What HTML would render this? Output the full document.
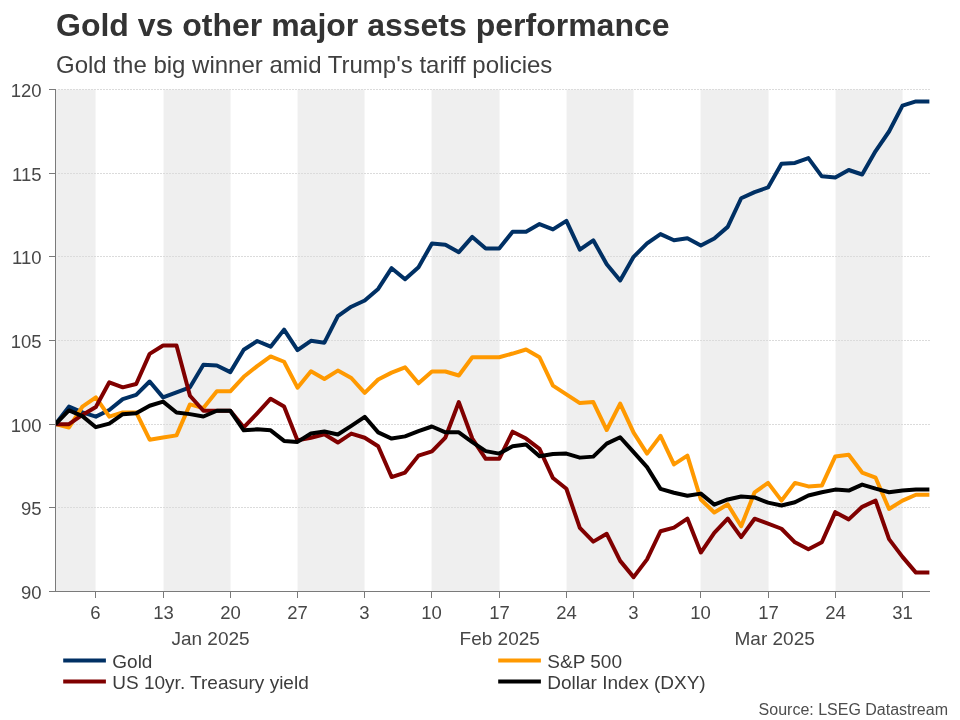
<!DOCTYPE html>
<html lang="en"><head><meta charset="utf-8"><title>Gold vs other major assets performance</title>
<style>
html,body{margin:0;padding:0;background:#fff}
body{width:960px;height:720px;overflow:hidden;font-family:"Liberation Sans",sans-serif}
svg{display:block}
text{font-family:"Liberation Sans",sans-serif}
</style></head><body>
<svg width="960" height="720" viewBox="0 0 960 720">
<rect width="960" height="720" fill="#ffffff"/>
<defs><clipPath id="pc"><rect x="55" y="80" width="875.5" height="512"/></clipPath></defs>
<rect x="55.50" y="89.5" width="40.05" height="501.50" fill="#efefef"/>
<rect x="163.55" y="89.5" width="67.00" height="501.50" fill="#efefef"/>
<rect x="297.55" y="89.5" width="67.00" height="501.50" fill="#efefef"/>
<rect x="431.55" y="89.5" width="68.00" height="501.50" fill="#efefef"/>
<rect x="566.55" y="89.5" width="67.00" height="501.50" fill="#efefef"/>
<rect x="700.55" y="89.5" width="68.00" height="501.50" fill="#efefef"/>
<rect x="835.55" y="89.5" width="67.00" height="501.50" fill="#efefef"/>
<line x1="58.0" y1="89.50" x2="930.5" y2="89.50" stroke="#dbdbdb" stroke-width="1" stroke-dasharray="2 1"/>
<line x1="58.0" y1="173.50" x2="930.5" y2="173.50" stroke="#dbdbdb" stroke-width="1" stroke-dasharray="2 1"/>
<line x1="58.0" y1="256.50" x2="930.5" y2="256.50" stroke="#dbdbdb" stroke-width="1" stroke-dasharray="2 1"/>
<line x1="58.0" y1="340.50" x2="930.5" y2="340.50" stroke="#dbdbdb" stroke-width="1" stroke-dasharray="2 1"/>
<line x1="58.0" y1="424.50" x2="930.5" y2="424.50" stroke="#dbdbdb" stroke-width="1" stroke-dasharray="2 1"/>
<line x1="58.0" y1="507.50" x2="930.5" y2="507.50" stroke="#dbdbdb" stroke-width="1" stroke-dasharray="2 1"/>
<polyline points="55.52,424.17 68.96,406.60 82.41,412.45 95.85,416.64 109.30,409.94 122.74,399.07 136.18,394.88 149.63,381.50 163.07,397.39 176.52,392.37 189.96,387.35 203.40,364.76 216.85,365.43 230.29,372.13 243.74,349.70 257.18,341.00 270.62,346.69 284.07,329.62 297.51,350.20 310.96,340.83 324.40,342.67 337.84,316.07 351.29,306.70 364.73,300.51 378.18,288.96 391.62,268.21 405.06,279.26 418.51,267.21 431.95,243.45 445.40,244.79 458.84,252.15 472.28,236.92 485.73,248.47 499.17,248.47 512.62,231.73 526.06,231.73 539.50,224.04 552.95,229.39 566.39,220.86 579.84,249.64 593.28,240.27 606.72,264.20 620.17,280.43 633.61,256.83 647.06,243.45 660.50,234.08 673.94,240.27 687.39,238.26 700.83,245.45 714.28,238.43 727.72,226.88 741.16,198.27 754.61,192.08 768.05,187.39 781.50,163.80 794.94,162.96 808.38,158.11 821.83,176.35 835.27,177.52 848.72,169.99 862.16,174.51 875.60,151.08 889.05,131.50 902.49,105.56 915.94,101.38 929.38,101.38" fill="none" stroke="#003064" stroke-width="4" stroke-linejoin="round" stroke-linecap="butt" clip-path="url(#pc)"/>
<polyline points="55.52,424.17 68.96,427.51 82.41,406.60 95.85,397.39 109.30,416.64 122.74,412.45 136.18,412.45 149.63,439.73 163.07,437.55 176.52,435.38 189.96,404.42 203.40,408.10 216.85,391.37 230.29,391.37 243.74,376.81 257.18,366.10 270.62,356.40 284.07,361.75 297.51,387.69 310.96,371.29 324.40,378.99 337.84,370.62 351.29,377.98 364.73,392.87 378.18,379.49 391.62,372.63 405.06,367.27 418.51,383.34 431.95,371.46 445.40,371.46 458.84,375.47 472.28,357.23 485.73,357.23 499.17,357.23 512.62,353.55 526.06,349.54 539.50,357.23 552.95,385.68 566.39,394.38 579.84,403.08 593.28,402.08 606.72,430.02 620.17,403.58 633.61,432.70 647.06,453.62 660.50,435.88 673.94,464.33 687.39,455.62 700.83,499.47 714.28,512.52 727.72,504.32 741.16,526.24 754.61,492.27 768.05,482.90 781.50,500.64 794.94,482.90 808.38,486.41 821.83,485.58 835.27,456.46 848.72,454.79 862.16,472.53 875.60,477.71 889.05,509.00 902.49,500.64 915.94,494.78 929.38,494.78" fill="none" stroke="#ff9900" stroke-width="4" stroke-linejoin="round" stroke-linecap="butt" clip-path="url(#pc)"/>
<polyline points="55.52,424.17 68.96,424.17 82.41,414.96 95.85,406.93 109.30,382.33 122.74,387.35 136.18,384.01 149.63,353.89 163.07,345.52 176.52,345.52 189.96,395.72 203.40,410.78 216.85,410.78 230.29,410.78 243.74,427.35 257.18,413.29 270.62,398.73 284.07,406.43 297.51,440.40 310.96,437.72 324.40,434.21 337.84,442.57 351.29,433.54 364.73,437.72 378.18,446.25 391.62,477.04 405.06,472.53 418.51,455.62 431.95,451.44 445.40,437.55 458.84,402.08 472.28,438.56 485.73,458.80 499.17,458.80 512.62,431.70 526.06,438.56 539.50,448.93 552.95,478.05 566.39,488.76 579.84,527.91 593.28,541.63 606.72,533.77 620.17,560.88 633.61,577.11 647.06,559.37 660.50,531.26 673.94,527.58 687.39,518.54 700.83,552.51 714.28,532.77 727.72,518.54 741.16,537.12 754.61,518.71 768.05,523.56 781.50,528.75 794.94,542.30 808.38,549.16 821.83,542.30 835.27,512.18 848.72,519.38 862.16,506.83 875.60,500.64 889.05,539.12 902.49,556.86 915.94,572.59 929.38,572.59" fill="none" stroke="#800000" stroke-width="4" stroke-linejoin="round" stroke-linecap="butt" clip-path="url(#pc)"/>
<polyline points="55.52,424.17 68.96,410.44 82.41,416.13 95.85,427.18 109.30,423.66 122.74,414.13 136.18,413.29 149.63,405.76 163.07,401.58 176.52,412.45 189.96,414.13 203.40,416.47 216.85,410.78 230.29,410.78 243.74,430.36 257.18,429.35 270.62,430.36 284.07,440.90 297.51,441.90 310.96,433.54 324.40,431.53 337.84,434.54 351.29,425.84 364.73,416.80 378.18,432.37 391.62,438.56 405.06,436.38 418.51,431.19 431.95,426.51 445.40,432.37 458.84,432.37 472.28,442.07 485.73,451.11 499.17,453.62 512.62,446.25 526.06,444.41 539.50,456.29 552.95,453.95 566.39,453.62 579.84,457.63 593.28,456.63 606.72,443.58 620.17,437.22 633.61,452.11 647.06,467.17 660.50,488.92 673.94,492.77 687.39,495.78 700.83,493.61 714.28,504.65 727.72,499.47 741.16,496.45 754.61,497.46 768.05,502.65 781.50,505.49 794.94,502.31 808.38,495.45 821.83,492.27 835.27,489.59 848.72,490.60 862.16,484.57 875.60,488.59 889.05,492.27 902.49,490.60 915.94,489.59 929.38,489.59" fill="none" stroke="#000000" stroke-width="4" stroke-linejoin="round" stroke-linecap="butt" clip-path="url(#pc)"/>
<line x1="55.5" y1="89.0" x2="55.5" y2="592.0" stroke="#7a7a7a" stroke-width="1"/>
<line x1="49.0" y1="591.5" x2="930" y2="591.5" stroke="#7a7a7a" stroke-width="1"/>
<line x1="49.0" y1="89.50" x2="55.5" y2="89.50" stroke="#7a7a7a" stroke-width="1"/>
<text x="41.6" y="96.80" font-size="18.5" fill="#474747" text-anchor="end">120</text>
<line x1="49.0" y1="173.50" x2="55.5" y2="173.50" stroke="#7a7a7a" stroke-width="1"/>
<text x="41.6" y="180.80" font-size="18.5" fill="#474747" text-anchor="end">115</text>
<line x1="49.0" y1="256.50" x2="55.5" y2="256.50" stroke="#7a7a7a" stroke-width="1"/>
<text x="41.6" y="263.80" font-size="18.5" fill="#474747" text-anchor="end">110</text>
<line x1="49.0" y1="340.50" x2="55.5" y2="340.50" stroke="#7a7a7a" stroke-width="1"/>
<text x="41.6" y="347.80" font-size="18.5" fill="#474747" text-anchor="end">105</text>
<line x1="49.0" y1="424.50" x2="55.5" y2="424.50" stroke="#7a7a7a" stroke-width="1"/>
<text x="41.6" y="431.80" font-size="18.5" fill="#474747" text-anchor="end">100</text>
<line x1="49.0" y1="507.50" x2="55.5" y2="507.50" stroke="#7a7a7a" stroke-width="1"/>
<text x="41.6" y="514.80" font-size="18.5" fill="#474747" text-anchor="end">95</text>
<text x="41.6" y="598.80" font-size="18.5" fill="#474747" text-anchor="end">90</text>
<line x1="95.50" y1="591.5" x2="95.50" y2="598.0" stroke="#7a7a7a" stroke-width="1"/>
<text x="95.50" y="619.2" font-size="18.5" fill="#474747" text-anchor="middle">6</text>
<line x1="163.50" y1="591.5" x2="163.50" y2="598.0" stroke="#7a7a7a" stroke-width="1"/>
<text x="163.50" y="619.2" font-size="18.5" fill="#474747" text-anchor="middle">13</text>
<line x1="230.50" y1="591.5" x2="230.50" y2="598.0" stroke="#7a7a7a" stroke-width="1"/>
<text x="230.50" y="619.2" font-size="18.5" fill="#474747" text-anchor="middle">20</text>
<line x1="297.50" y1="591.5" x2="297.50" y2="598.0" stroke="#7a7a7a" stroke-width="1"/>
<text x="297.50" y="619.2" font-size="18.5" fill="#474747" text-anchor="middle">27</text>
<line x1="364.50" y1="591.5" x2="364.50" y2="598.0" stroke="#7a7a7a" stroke-width="1"/>
<text x="364.50" y="619.2" font-size="18.5" fill="#474747" text-anchor="middle">3</text>
<line x1="431.50" y1="591.5" x2="431.50" y2="598.0" stroke="#7a7a7a" stroke-width="1"/>
<text x="431.50" y="619.2" font-size="18.5" fill="#474747" text-anchor="middle">10</text>
<line x1="499.50" y1="591.5" x2="499.50" y2="598.0" stroke="#7a7a7a" stroke-width="1"/>
<text x="499.50" y="619.2" font-size="18.5" fill="#474747" text-anchor="middle">17</text>
<line x1="566.50" y1="591.5" x2="566.50" y2="598.0" stroke="#7a7a7a" stroke-width="1"/>
<text x="566.50" y="619.2" font-size="18.5" fill="#474747" text-anchor="middle">24</text>
<line x1="633.50" y1="591.5" x2="633.50" y2="598.0" stroke="#7a7a7a" stroke-width="1"/>
<text x="633.50" y="619.2" font-size="18.5" fill="#474747" text-anchor="middle">3</text>
<line x1="700.50" y1="591.5" x2="700.50" y2="598.0" stroke="#7a7a7a" stroke-width="1"/>
<text x="700.50" y="619.2" font-size="18.5" fill="#474747" text-anchor="middle">10</text>
<line x1="768.50" y1="591.5" x2="768.50" y2="598.0" stroke="#7a7a7a" stroke-width="1"/>
<text x="768.50" y="619.2" font-size="18.5" fill="#474747" text-anchor="middle">17</text>
<line x1="835.50" y1="591.5" x2="835.50" y2="598.0" stroke="#7a7a7a" stroke-width="1"/>
<text x="835.50" y="619.2" font-size="18.5" fill="#474747" text-anchor="middle">24</text>
<line x1="902.50" y1="591.5" x2="902.50" y2="598.0" stroke="#7a7a7a" stroke-width="1"/>
<text x="902.50" y="619.2" font-size="18.5" fill="#474747" text-anchor="middle">31</text>
<text x="210.5" y="645.2" font-size="19" fill="#474747" text-anchor="middle">Jan 2025</text>
<text x="499.7" y="645.2" font-size="19" fill="#474747" text-anchor="middle">Feb 2025</text>
<text x="774.7" y="645.2" font-size="19" fill="#474747" text-anchor="middle">Mar 2025</text>
<line x1="63.2" y1="660.45" x2="105.9" y2="660.45" stroke="#003064" stroke-width="4"/>
<text x="112.3" y="667.9" font-size="19" fill="#3c3c3c">Gold</text>
<line x1="63.2" y1="681.45" x2="105.9" y2="681.45" stroke="#800000" stroke-width="4"/>
<text x="112.3" y="688.9" font-size="19" fill="#3c3c3c">US 10yr. Treasury yield</text>
<line x1="498.2" y1="660.45" x2="540.9" y2="660.45" stroke="#ff9900" stroke-width="4"/>
<text x="547.3" y="667.9" font-size="19" fill="#3c3c3c">S&amp;P 500</text>
<line x1="498.2" y1="681.45" x2="540.9" y2="681.45" stroke="#000000" stroke-width="4"/>
<text x="547.3" y="688.9" font-size="19" fill="#3c3c3c">Dollar Index (DXY)</text>
<text x="56" y="36.4" font-size="32" font-weight="bold" fill="#333333">Gold vs other major assets performance</text>
<text x="56" y="72.6" font-size="24" fill="#404040">Gold the big winner amid Trump's tariff policies</text>
<text x="948" y="714.7" font-size="16" fill="#4d4d4d" text-anchor="end">Source: LSEG Datastream</text>
</svg></body></html>
